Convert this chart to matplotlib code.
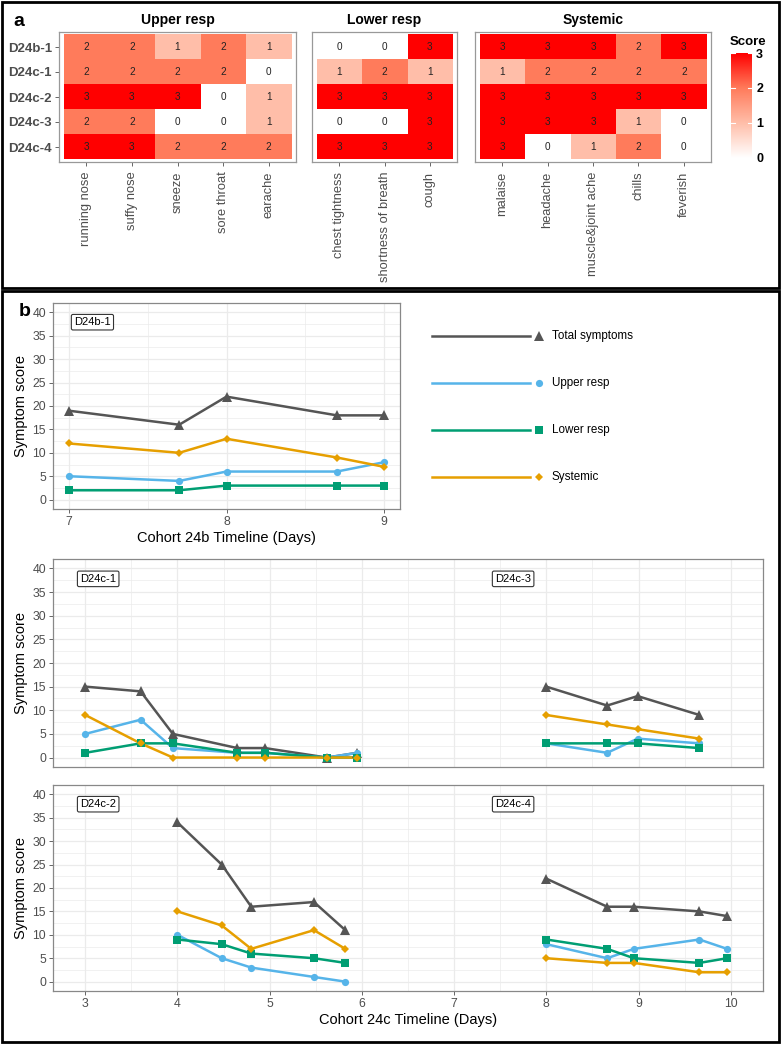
import matplotlib
matplotlib.use('Agg')
import matplotlib.pyplot as plt
import numpy as np
from matplotlib.colors import LinearSegmentedColormap
from matplotlib.patches import Rectangle

plt.rcParams['font.family'] = ['Liberation Sans', 'DejaVu Sans']

# ---------------- data: panel a ----------------
subjects = ['D24b-1', 'D24c-1', 'D24c-2', 'D24c-3', 'D24c-4']
upper_symptoms = ['running nose', 'suffy nose', 'sneeze', 'sore throat', 'earache']
lower_symptoms = ['chest tightness', 'shortness of breath', 'cough']
systemic_symptoms = ['malaise', 'headache', 'muscle&joint ache', 'chills', 'feverish']
upper_scores = [[2, 2, 1, 2, 1], [2, 2, 2, 2, 0], [3, 3, 3, 0, 1], [2, 2, 0, 0, 1], [3, 3, 2, 2, 2]]
lower_scores = [[0, 0, 3], [1, 2, 1], [3, 3, 3], [0, 0, 3], [3, 3, 3]]
systemic_scores = [[3, 3, 3, 2, 3], [1, 2, 2, 2, 2], [3, 3, 3, 3, 3], [3, 3, 3, 1, 0], [3, 0, 1, 2, 0]]
group_titles = ['Upper resp', 'Lower resp', 'Systemic']
score_ticks = [0, 1, 2, 3]

# ---------------- data: panel b ----------------
series_names = ['Total symptoms', 'Upper resp', 'Lower resp', 'Systemic']

d24b1_day = [7.0, 7.7, 8.0, 8.7, 9.0]
d24b1_total = [19, 16, 22, 18, 18]
d24b1_upper = [5, 4, 6, 6, 8]
d24b1_lower = [2, 2, 3, 3, 3]
d24b1_systemic = [12, 10, 13, 9, 7]

d24c1_day = [3.0, 3.6, 3.95, 4.65, 4.95, 5.62, 5.95]
d24c1_total = [15, 14, 5, 2, 2, 0, 1]
d24c1_upper = [5, 8, 2, 1, 1, 0, 1]
d24c1_lower = [1, 3, 3, 1, 1, 0, 0]
d24c1_systemic = [9, 3, 0, 0, 0, 0, 0]

d24c3_day = [8.0, 8.66, 8.99, 9.66]
d24c3_total = [15, 11, 13, 9]
d24c3_upper = [3, 1, 4, 3]
d24c3_lower = [3, 3, 3, 2]
d24c3_systemic = [9, 7, 6, 4]

d24c2_day = [4.0, 4.48, 4.8, 5.48, 5.82]
d24c2_total = [34, 25, 16, 17, 11]
d24c2_upper = [10, 5, 3, 1, 0]
d24c2_lower = [9, 8, 6, 5, 4]
d24c2_systemic = [15, 12, 7, 11, 7]

d24c4_day = [8.0, 8.66, 8.95, 9.66, 9.96]
d24c4_total = [22, 16, 16, 15, 14]
d24c4_upper = [8, 5, 7, 9, 7]
d24c4_lower = [9, 7, 5, 4, 5]
d24c4_systemic = [5, 4, 4, 2, 2]

y_ticks = [0, 5, 10, 15, 20, 25, 30, 35, 40]
b_x_ticks = [7, 8, 9]
c_x_ticks = [3, 4, 5, 6, 7, 8, 9, 10]

# ---------------- styles ----------------
W, H = 781, 1044
fig = plt.figure(figsize=(W / 100, H / 100), dpi=100)

def ax_px(x0, y0, x1, y1, **kw):
    return fig.add_axes([x0 / W, 1 - y1 / H, (x1 - x0) / W, (y1 - y0) / H], **kw)

cmap = LinearSegmentedColormap.from_list(
    'wr', [(0, '#FFFFFF'), (1 / 3, '#FFBEA9'), (2 / 3, '#FF7B5B'), (1, '#FF0000')])

col_total = '#555555'
col_upper = '#56B4E9'
col_lower = '#009E73'
col_sys = '#E69F00'
series_style = [
    (col_total, '^', 7.5),
    (col_upper, 'o', 5.2),
    (col_lower, 's', 5.2),
    (col_sys, 'D', 3.6),
]
grid_col = '#EBEBEB'
border_col = '#888888'
tick_col = '#4D4D4D'

# ---------------- outer boxes ----------------
for (x0, y0, x1, y1) in [(2, 2, 779, 287.5), (2, 290.5, 779, 1042)]:
    fig.patches.append(Rectangle((x0 / W, 1 - y1 / H), (x1 - x0) / W, (y1 - y0) / H,
                                 transform=fig.transFigure, fill=False, ec='black', lw=2.0))
fig.text(19 / W, 1 - 22 / H, 'a', fontsize=14, fontweight='bold', ha='center', va='center')
fig.text(25 / W, 1 - 311 / H, 'b', fontsize=14, fontweight='bold', ha='center', va='center')

# ---------------- panel a heatmaps ----------------
heat_groups = [
    (upper_symptoms, upper_scores, 59, 296),
    (lower_symptoms, lower_scores, 312, 457),
    (systemic_symptoms, systemic_scores, 475, 711),
]
for gi, (syms, scores, x0, x1) in enumerate(heat_groups):
    ax = ax_px(x0, 32, x1, 162)
    arr = np.array(scores)
    n = len(syms)
    ax.imshow(arr, cmap=cmap, vmin=0, vmax=3, aspect='auto', interpolation='nearest',
              extent=(-0.5, n - 0.5, len(subjects) - 0.5, -0.5), zorder=2)
    for r in range(len(subjects)):
        for c in range(n):
            ax.text(c, r, str(arr[r, c]), ha='center', va='center', fontsize=7.2,
                    color='#222222', zorder=3)
    ax.set_xlim(-0.6, n - 0.4)
    ax.set_ylim(len(subjects) - 0.4, -0.6)
    ax.set_xticks(range(n))
    ax.set_xticklabels(syms, rotation=90, fontsize=9.3, color=tick_col)
    ax.set_yticks(range(len(subjects)))
    if gi == 0:
        ax.set_yticklabels(subjects, fontsize=9.5, fontweight='bold', color='#4D4D4D')
    else:
        ax.tick_params(axis='y', left=False, labelleft=False)
    ax.tick_params(colors=tick_col, length=3, width=0.6, labelcolor=tick_col)
    ax.tick_params(axis='x', pad=4)
    ax.tick_params(axis='y', pad=2)
    for s in ax.spines.values():
        s.set_color('#999999')
        s.set_linewidth(0.9)
    ax.set_title(group_titles[gi], fontsize=10, fontweight='bold', pad=6)

# colorbar
cax = ax_px(731, 53, 752, 158)
grad = np.linspace(0, 3, 300).reshape(-1, 1)
cax.imshow(grad, cmap=cmap, vmin=0, vmax=3, aspect='auto', origin='lower',
           extent=(0, 1, 0, 3))
cax.set_xlim(0, 1)
cax.set_ylim(0, 3)
for s in cax.spines.values():
    s.set_visible(False)
cax.set_xticks([])
cax.yaxis.tick_right()
cax.set_yticks(score_ticks)
cax.set_yticklabels([str(t) for t in score_ticks], fontsize=9, fontweight='bold')
cax.tick_params(axis='y', length=0, pad=3)
for t in score_ticks:
    cax.plot([0, 0.2], [t, t], color='white', lw=0.8)
    cax.plot([0.8, 1], [t, t], color='white', lw=0.8)
fig.text(748 / W, 1 - 42 / H, 'Score', fontsize=9.5, fontweight='bold', ha='center', va='center')

# ---------------- panel b line plots ----------------
def style_line_ax(ax, xlim, xticks, xminor, show_x):
    ax.set_xlim(*xlim)
    ax.set_ylim(-2, 42)
    ax.set_yticks(y_ticks)
    ax.set_yticks([2.5 + 5 * i for i in range(8)], minor=True)
    ax.set_xticks(xticks)
    ax.set_xticks(xminor, minor=True)
    ax.grid(True, which='major', color=grid_col, lw=0.9, zorder=0)
    ax.grid(True, which='minor', color=grid_col, lw=0.5, zorder=0)
    ax.set_axisbelow(True)
    ax.tick_params(which='major', colors=tick_col, length=3, width=0.6, labelsize=8.8, pad=2)
    ax.tick_params(which='minor', length=0)
    if not show_x:
        ax.tick_params(axis='x', which='major', bottom=False, labelbottom=False)
    for s in ax.spines.values():
        s.set_color(border_col)
        s.set_linewidth(0.9)
    ax.set_ylabel('Symptom score', fontsize=10.5, labelpad=3)


def draw_subject(ax, day, total, upper, lower, systemic):
    vals = [total, upper, lower, systemic]
    for v, (c, m, ms) in zip(vals, series_style):
        ax.plot(day, v, color=c, lw=1.8, zorder=3, solid_capstyle='butt')
    for v, (c, m, ms) in zip(vals, series_style):
        ax.plot(day, v, ls='none', marker=m, color=c, ms=ms, mec=c, mew=0, zorder=4)


box_kw = dict(boxstyle='round,pad=0.25,rounding_size=0.15', fc='white', ec='#333333', lw=0.8)

ax1 = ax_px(53, 303, 400, 509)
style_line_ax(ax1, (6.9, 9.1), b_x_ticks, [7.5, 8.5], True)
draw_subject(ax1, d24b1_day, d24b1_total, d24b1_upper, d24b1_lower, d24b1_systemic)
ax1.text(7.15, 37.9, 'D24b-1', fontsize=8, ha='center', va='center', bbox=box_kw, zorder=5)
ax1.set_xlabel('Cohort 24b Timeline (Days)', fontsize=10.5, labelpad=2)

ax2 = ax_px(53, 559, 763, 767)
style_line_ax(ax2, (2.65, 10.35), c_x_ticks, [3.5 + i for i in range(7)], False)
draw_subject(ax2, d24c1_day, d24c1_total, d24c1_upper, d24c1_lower, d24c1_systemic)
draw_subject(ax2, d24c3_day, d24c3_total, d24c3_upper, d24c3_lower, d24c3_systemic)
ax2.text(3.14, 37.8, 'D24c-1', fontsize=8, ha='center', va='center', bbox=box_kw, zorder=5)
ax2.text(7.64, 37.8, 'D24c-3', fontsize=8, ha='center', va='center', bbox=box_kw, zorder=5)

ax3 = ax_px(53, 785, 763, 991)
style_line_ax(ax3, (2.65, 10.35), c_x_ticks, [3.5 + i for i in range(7)], True)
draw_subject(ax3, d24c2_day, d24c2_total, d24c2_upper, d24c2_lower, d24c2_systemic)
draw_subject(ax3, d24c4_day, d24c4_total, d24c4_upper, d24c4_lower, d24c4_systemic)
ax3.text(3.14, 37.9, 'D24c-2', fontsize=8, ha='center', va='center', bbox=box_kw, zorder=5)
ax3.text(7.64, 37.9, 'D24c-4', fontsize=8, ha='center', va='center', bbox=box_kw, zorder=5)
ax3.set_xlabel('Cohort 24c Timeline (Days)', fontsize=10.5, labelpad=2)

# legend (drawn in pixel space)
lax = ax_px(405, 300, 775, 505)
lax.set_xlim(405, 775)
lax.set_ylim(505, 300)
lax.axis('off')
for i, (name, (c, m, ms)) in enumerate(zip(series_names, series_style)):
    yy = 336 + i * 47
    lax.plot([432, 530], [yy, yy], color=c, lw=1.8)
    lax.plot([539], [yy], marker=m, color=c, ms=ms, mew=0)
    lax.text(552, yy, name, fontsize=8.4, va='center', ha='left')

fig.savefig('out.png', dpi=100)
